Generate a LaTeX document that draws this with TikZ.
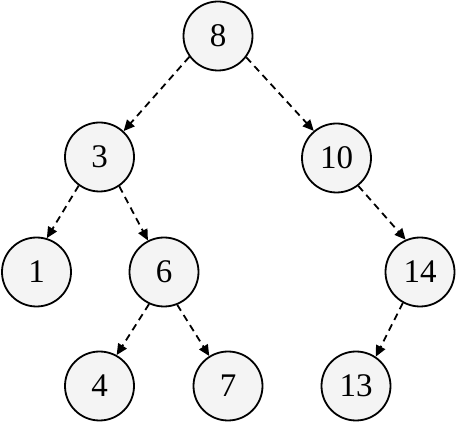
\documentclass[tikz,border=0pt]{standalone}
\usepackage{fontspec}
\setmainfont{Liberation Serif}
\usepackage{tikz}
\usetikzlibrary{arrows.meta}
\definecolor{nodefill}{HTML}{F4F4F4}

\begin{document}
\begin{tikzpicture}[x=1pt,y=-1pt,
  treenode/.style={circle,draw,line width=1.8pt,fill=nodefill,minimum size=69pt,inner sep=0pt,font=\fontsize{33}{36}\selectfont},
  child/.style={dashed,dash pattern=on 7pt off 5pt,line width=1.8pt,-{Triangle[length=11pt,width=10pt]}}]
\useasboundingbox (0,0) rectangle (456,422);

\node[treenode] (n8) at (218,36) {8};
\node[treenode] (n3) at (99.5,157) {3};
\node[treenode] (n10) at (336.5,158) {10};
\node[treenode] (n1) at (36.5,272) {1};
\node[treenode] (n6) at (164,272) {6};
\node[treenode] (n14) at (420,272) {14};
\node[treenode] (n4) at (99.5,386) {4};
\node[treenode] (n7) at (228,386) {7};
\node[treenode] (n13) at (356,386) {13};

\draw[child] (n8.216) -- (n3.47);
\draw[child] (n8.323) -- (n10.130);
\draw[child] (n3.234) -- (n1.73);
\draw[child] (n3.304) -- (n6.117);
\draw[child] (n6.245) -- (n4.61);
\draw[child] (n6.292) -- (n7.122);
\draw[child] (n10.308) -- (n14.114);
\draw[child] (n14.241) -- (n13.56);

\end{tikzpicture}
\end{document}
